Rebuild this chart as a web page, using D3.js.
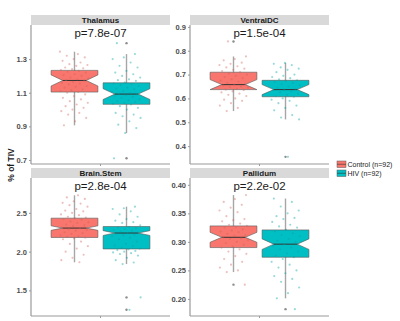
<!DOCTYPE html>
<html>
<head>
<meta charset="utf-8">
<script src="https://cdn.jsdelivr.net/npm/d3@7"></script>
<style>
  body { margin: 0; background: #fff; }
  text { font-family: "Liberation Sans", Arial, sans-serif; }
</style>
</head>
<body>
<script>
// regions and p-values
const regions = ["Thalamus", "VentralDC", "Brain.Stem", "Pallidum"];
const pvalues = ["p=7.8e-07", "p=1.5e-04", "p=2.8e-04", "p=2.2e-02"];
const groups = ["Control", "HIV"];
const legendLabels = ["Control (n=92)", "HIV (n=92)"];
const colors = ["#F8766D", "#00BFC4"];

// y axis domains and ticks per panel
const yDomains = [[0.676, 1.503], [0.325, 0.908], [1.17, 2.95], [0.170, 0.412]];
const yTicks = [[0.7, 0.9, 1.1, 1.3], [0.4, 0.5, 0.6, 0.7, 0.8, 0.9], [1.5, 2.0, 2.5], [0.20, 0.25, 0.30, 0.35, 0.40]];
const yFormats = [".1f", ".1f", ".1f", ".2f"];

// box stats [lowWhisker, q1, median, q3, highWhisker, notchHalf] per panel, per group
const boxStats = [
  [[0.906, 1.104, 1.173, 1.233, 1.344, 0.033], [0.86, 1.031, 1.092, 1.159, 1.33, 0.032]],
  [[0.547, 0.637, 0.658, 0.71, 0.776, 0.021], [0.512, 0.607, 0.637, 0.676, 0.749, 0.021]],
  [[1.863, 2.183, 2.304, 2.432, 2.727, 0.029], [1.84, 2.035, 2.24, 2.324, 2.58, 0.031]],
  [[0.247, 0.29, 0.308, 0.328, 0.382, 0.0087], [0.201, 0.273, 0.296, 0.321, 0.376, 0.0092]]
];

// outliers per panel, per group
const outliers = [
  [[], [1.395, 0.71]],
  [[0.839], [0.355]],
  [[], [1.41, 1.25]],
  [[0.225], [0.182]]
];

// individual values (jittered points)
const thalamusControl = [1.344, 1.33, 1.32, 1.31, 1.30, 1.29, 1.28, 1.27, 1.265, 1.26, 1.25, 1.245, 1.24, 1.235, 1.23, 1.225, 1.22, 1.21, 1.205, 1.20, 1.19, 1.185, 1.18, 1.175, 1.17, 1.165, 1.16, 1.155, 1.15, 1.14, 1.135, 1.13, 1.12, 1.115, 1.11, 1.105, 1.10, 1.09, 1.08, 1.07, 1.06, 1.05, 1.04, 1.03, 1.02, 1.01, 1.00, 0.99, 0.98, 0.97, 0.95, 0.93, 0.906];
const thalamusHIV = [1.395, 1.33, 1.31, 1.30, 1.28, 1.26, 1.25, 1.23, 1.22, 1.21, 1.20, 1.19, 1.18, 1.175, 1.17, 1.16, 1.155, 1.15, 1.145, 1.14, 1.13, 1.125, 1.12, 1.11, 1.105, 1.10, 1.095, 1.09, 1.085, 1.08, 1.075, 1.07, 1.06, 1.055, 1.05, 1.045, 1.04, 1.035, 1.03, 1.02, 1.01, 1.00, 0.98, 0.97, 0.96, 0.95, 0.93, 0.91, 0.89, 0.86, 0.71];
const ventralControl = [0.839, 0.776, 0.765, 0.76, 0.75, 0.745, 0.74, 0.735, 0.73, 0.725, 0.72, 0.715, 0.71, 0.705, 0.70, 0.695, 0.69, 0.685, 0.68, 0.675, 0.67, 0.665, 0.66, 0.658, 0.655, 0.65, 0.648, 0.645, 0.64, 0.637, 0.635, 0.63, 0.625, 0.62, 0.615, 0.61, 0.60, 0.595, 0.59, 0.58, 0.57, 0.56, 0.547];
const ventralHIV = [0.749, 0.745, 0.74, 0.73, 0.725, 0.72, 0.71, 0.70, 0.695, 0.69, 0.685, 0.68, 0.676, 0.672, 0.67, 0.665, 0.66, 0.655, 0.65, 0.645, 0.64, 0.637, 0.635, 0.63, 0.625, 0.62, 0.615, 0.61, 0.607, 0.60, 0.595, 0.59, 0.58, 0.57, 0.56, 0.55, 0.53, 0.52, 0.512, 0.355];
const stemControl = [2.727, 2.70, 2.68, 2.65, 2.63, 2.62, 2.60, 2.58, 2.55, 2.53, 2.52, 2.50, 2.48, 2.47, 2.45, 2.44, 2.43, 2.42, 2.41, 2.39, 2.38, 2.37, 2.35, 2.34, 2.33, 2.31, 2.30, 2.29, 2.28, 2.27, 2.25, 2.24, 2.23, 2.21, 2.20, 2.19, 2.18, 2.17, 2.16, 2.13, 2.10, 2.07, 2.04, 2.00, 1.96, 1.92, 1.89, 1.863];
const stemHIV = [2.58, 2.56, 2.55, 2.52, 2.48, 2.45, 2.42, 2.40, 2.38, 2.37, 2.34, 2.32, 2.31, 2.30, 2.29, 2.28, 2.27, 2.26, 2.25, 2.24, 2.23, 2.22, 2.21, 2.20, 2.18, 2.16, 2.13, 2.10, 2.08, 2.07, 2.05, 2.04, 2.03, 2.02, 2.01, 2.00, 1.99, 1.98, 1.97, 1.95, 1.92, 1.89, 1.86, 1.84, 1.41, 1.25];
const pallidumControl = [0.382, 0.375, 0.37, 0.365, 0.36, 0.355, 0.352, 0.345, 0.34, 0.338, 0.336, 0.332, 0.33, 0.328, 0.326, 0.325, 0.322, 0.32, 0.318, 0.317, 0.314, 0.312, 0.311, 0.308, 0.306, 0.305, 0.303, 0.30, 0.298, 0.295, 0.292, 0.29, 0.287, 0.283, 0.279, 0.275, 0.27, 0.265, 0.26, 0.255, 0.25, 0.247, 0.225];
const pallidumHIV = [0.376, 0.37, 0.362, 0.355, 0.35, 0.345, 0.342, 0.34, 0.335, 0.33, 0.327, 0.325, 0.321, 0.318, 0.315, 0.312, 0.31, 0.305, 0.302, 0.30, 0.296, 0.293, 0.29, 0.287, 0.283, 0.28, 0.276, 0.273, 0.27, 0.265, 0.26, 0.255, 0.25, 0.245, 0.24, 0.235, 0.23, 0.22, 0.21, 0.201, 0.182];

const points = [
  [thalamusControl, thalamusHIV],
  [ventralControl, ventralHIV],
  [stemControl, stemHIV],
  [pallidumControl, pallidumHIV]
];

function main() {
  const svg = d3.select("body").append("svg")
    .attr("width", 400)
    .attr("height", 321);

  const colX = [31, 190];
  const panelW = 139;
  const stripTop = [15, 168];
  const stripH = 10;
  const panelTop = [25, 178];
  const panelBottom = [164, 316];

  const x = d3.scalePoint().domain(groups).range([0, panelW]).padding(0.836);
  const boxW = x.step() * 0.9;
  const jitterW = x.step() * 0.28;

  regions.forEach((region, i) => {
    const col = i % 2, row = Math.floor(i / 2);
    const g = svg.append("g").attr("transform", "translate(" + colX[col] + ",0)");
    const y = d3.scaleLinear().domain(yDomains[i]).range([panelBottom[row], panelTop[row]]);

    // strip
    g.append("rect")
      .attr("x", 0).attr("y", stripTop[row])
      .attr("width", panelW).attr("height", stripH)
      .attr("fill", "#D9D9D9");
    g.append("text")
      .attr("x", panelW / 2).attr("y", stripTop[row] + stripH / 2 + 3)
      .attr("text-anchor", "middle")
      .style("font-size", "8px").style("font-weight", "bold").attr("fill", "#1a1a1a")
      .text(region);

    // y axis
    const yAxis = g.append("g")
      .call(d3.axisLeft(y).tickValues(yTicks[i]).tickFormat(d3.format(yFormats[i])).tickSize(2).tickPadding(2));
    yAxis.select(".domain").attr("stroke", "#9a9a9a").attr("stroke-width", 1.2)
      .attr("d", "M0," + panelTop[row] + "V" + panelBottom[row]);
    yAxis.selectAll(".tick line").attr("stroke", "#9a9a9a");
    yAxis.selectAll(".tick text")
      .attr("fill", "#4d4d4d")
      .style("font-size", "7.5px").style("font-weight", "bold")
      .style("font-family", "Liberation Sans, Arial, sans-serif");

    // bottom axis line with one centre tick
    g.append("line")
      .attr("x1", 0).attr("x2", panelW)
      .attr("y1", panelBottom[row]).attr("y2", panelBottom[row])
      .attr("stroke", "#9a9a9a").attr("stroke-width", 1.2);
    g.append("line")
      .attr("x1", panelW / 2).attr("x2", panelW / 2)
      .attr("y1", panelBottom[row]).attr("y2", panelBottom[row] + 2)
      .attr("stroke", "#9a9a9a");

    // p-value
    g.append("text")
      .attr("x", panelW / 2).attr("y", panelTop[row] + 12)
      .attr("text-anchor", "middle")
      .style("font-size", "11.5px").attr("fill", "#1a1a1a")
      .text(pvalues[i]);

    groups.forEach((grp, j) => {
      const s = boxStats[i][j];
      const cx = x(grp);
      const hw = boxW / 2;

      // whisker
      g.append("line")
        .attr("x1", cx).attr("x2", cx)
        .attr("y1", y(s[0])).attr("y2", y(s[4]))
        .attr("stroke", "#a6a6a6").attr("stroke-width", 1.4);

      // notched box
      const path = d3.path();
      const nTop = y(s[2] + s[5]), nBot = y(s[2] - s[5]), med = y(s[2]);
      const qHi = y(s[3]), qLo = y(s[1]);
      path.moveTo(cx - hw, qHi);
      path.lineTo(cx + hw, qHi);
      path.lineTo(cx + hw, nTop);
      path.lineTo(cx + hw / 2, med);
      path.lineTo(cx + hw, nBot);
      path.lineTo(cx + hw, qLo);
      path.lineTo(cx - hw, qLo);
      path.lineTo(cx - hw, nBot);
      path.lineTo(cx - hw / 2, med);
      path.lineTo(cx - hw, nTop);
      path.closePath();
      g.append("path")
        .attr("d", path.toString())
        .attr("fill", colors[j])
        .attr("stroke", "#595959").attr("stroke-width", 0.6);
      g.append("line")
        .attr("x1", cx - hw / 2).attr("x2", cx + hw / 2)
        .attr("y1", med).attr("y2", med)
        .attr("stroke", "#333").attr("stroke-width", 1);

      // outliers from the box
      g.selectAll(null)
        .data(outliers[i][j])
        .enter().append("circle")
        .attr("cx", cx).attr("cy", d => y(d))
        .attr("r", 1.2)
        .attr("fill", "#666").attr("opacity", 0.75);

      // jittered points
      const c = d3.color(colors[j]).darker(0.5);
      g.selectAll(null)
        .data(points[i][j])
        .enter().append("circle")
        .attr("cx", (d, k) => cx + (((k * 0.6180339 + i * 0.31 + j * 0.17) % 1) - 0.5) * 2 * jitterW)
        .attr("cy", d => y(d))
        .attr("r", 1.1)
        .attr("fill", c.formatHex()).attr("opacity", 0.4);
    });
  });

  // legend
  const legend = svg.append("g").attr("transform", "translate(337,161)");
  legendLabels.forEach((lab, j) => {
    const ly = j * 9;
    legend.append("rect")
      .attr("x", 0).attr("y", ly).attr("width", 9).attr("height", 6.5)
      .attr("fill", colors[j]).attr("stroke", "#595959").attr("stroke-width", 0.5);
    legend.append("line")
      .attr("x1", 0).attr("x2", 9).attr("y1", ly + 3.25).attr("y2", ly + 3.25)
      .attr("stroke", "#333").attr("stroke-width", 0.6);
    legend.append("text")
      .attr("x", 10.5).attr("y", ly + 6)
      .style("font-size", "7px").attr("fill", "#1a1a1a")
      .text(lab);
  });

  // y label
  svg.append("text")
    .attr("transform", "translate(14,165) rotate(-90)")
    .attr("text-anchor", "middle")
    .style("font-size", "8.5px").style("font-weight", "bold").attr("fill", "#1a1a1a")
    .text("% of TIV");
}
main();
</script>
</body>
</html>
